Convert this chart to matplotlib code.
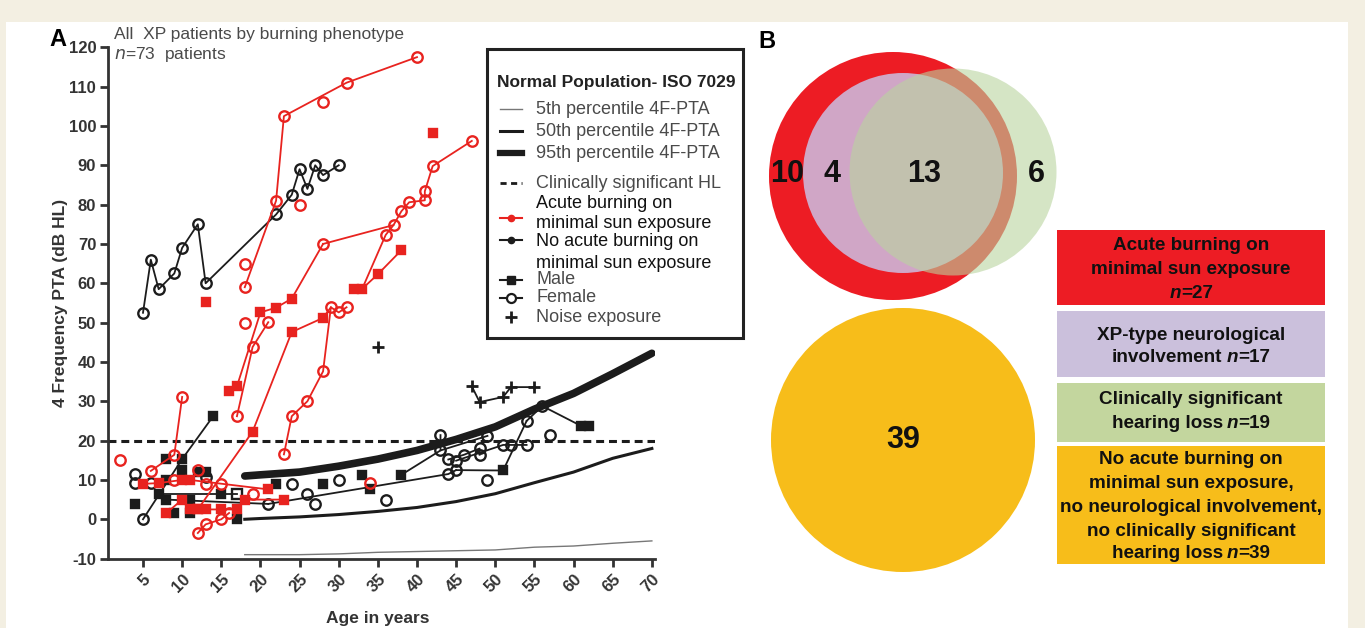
import matplotlib
matplotlib.use("Agg")
import matplotlib.pyplot as plt
from matplotlib.patches import Rectangle, Circle

plt.rcParams['axes.unicode_minus'] = False

W, H = 1365, 628
RED = '#e8231f'
BLK = '#1c1c1c'
GREY_TXT = '#4a4a4a'
ARIAL = ['Liberation Sans', 'DejaVu Sans']

# --- normal population (ISO 7029) 4F-PTA percentiles
iso_age = [18, 20, 25, 30, 35, 40, 45, 50, 55, 60, 65, 70]
iso_p5 = [-9, -9, -9, -8.8, -8.4, -8.2, -8, -7.8, -7.1, -6.8, -6.1, -5.5]
iso_p50 = [0, 0.2, 0.6, 1.2, 2.0, 3.0, 4.5, 6.5, 9.3, 12.0, 15.5, 18.0]
iso_p95 = [11, 11.3, 12, 13.5, 15.3, 17.5, 20.3, 23.5, 28, 32, 37, 42.2]
hl_threshold = 20

# --- acute burning patients, (ages, 4F-PTA) per patient
acute_female = [
    ([18, 22, 23, 31, 40], [59, 81, 102.5, 111, 117.5]),
    ([28], [106]), ([18], [65]), ([25], [80]), ([18], [50]),
    ([17, 19, 21], [26.2, 43.8, 50.1]),
    ([28, 37, 38, 39, 41, 41, 42, 47], [70, 74.8, 78.3, 80.6, 81.1, 83.4, 89.8, 96.2]),
    ([23, 24, 26, 28, 29, 30, 31], [16.5, 26.2, 30, 37.6, 53.9, 52.6, 53.9]),
    ([36], [72.3]),
    ([6, 9, 10], [12.3, 16.4, 31.1]),
    ([12, 13, 15, 16], [-3.5, -1.3, 0, 1.6]),
    ([2], [15]), ([34], [9.2]), ([13], [9]), ([15], [9]), ([12], [12.5]),
    ([9], [10]), ([19], [6.4]),
]
acute_male = [
    ([16, 17, 20, 22, 24], [32.6, 33.8, 52.6, 53.8, 56.1]),
    ([12, 19, 24, 28], [2.5, 22.3, 47.6, 51.2]),
    ([32, 33, 35, 38], [58.6, 58.6, 62.3, 68.4]),
    ([13], [55.2]), ([42], [98.2]),
    ([5, 7, 10, 11, 21], [9, 9.2, 10, 10, 7.6]),
    ([8, 10, 11, 12, 13, 15, 17, 18, 23], [1.6, 5, 2.5, 2.5, 2.5, 2.5, 2.5, 5, 5]),
]
acute_links = [
    ([24, 28], [56.1, 70]),
    ([28, 29], [51.2, 53.9]),
    ([33, 36, 37], [58.6, 72.3, 74.8]),
]

# --- no acute burning patients
none_female = [
    ([5, 6, 7, 9, 10, 12, 13, 22, 24, 25, 26, 27, 28, 30],
     [52.5, 66, 58.5, 62.5, 69, 75, 60, 77.5, 82.5, 89, 84, 90, 87.5, 90]),
    ([21, 44, 45], [3.9, 11.5, 12.5]),
    ([54, 56], [25, 28.8]),
    ([43, 43, 49], [21.4, 17.5, 21.2]),
    ([44, 46, 48, 48], [15.2, 16.4, 18, 16.4]),
    ([45, 51, 52, 54], [14.9, 18.9, 18.9, 18.9]),
    ([5], [0]), ([4], [11.5]), ([4], [9.2]), ([6], [9.2]), ([13], [10.8]),
    ([24], [9]), ([26], [6.4]), ([27], [3.9]), ([30], [10]), ([36], [5]),
    ([57], [21.4]), ([49], [10]),
]
none_male = [
    ([10, 14], [15.3, 26.3]),
    ([51], [12.4]), ([61, 62], [23.7, 23.7]),
    ([4], [3.9]), ([7], [6.4]), ([8], [15.3]), ([8], [10]), ([8], [5]),
    ([9], [1.6]), ([10], [12.5]), ([11], [5]), ([11], [1.6]), ([12], [12]),
    ([13], [12]), ([15], [6.4]), ([17], [0]), ([22], [9]), ([28], [9]),
    ([33], [11.3]), ([34], [7.6]), ([38], [11.3]),
]
none_links = [
    ([5, 10], [0, 15.3]),
    ([8, 21], [5, 3.9]),
    ([7, 17], [6.4, 6.4]),
    ([45, 51, 54], [12.5, 12.4, 25]),
    ([56, 61], [28.8, 23.7]),
    ([38, 43], [11.3, 17.5]),
]
none_open_square = ([17], [6.4])
noise = [([47, 48, 51, 52, 55], [33.8, 29.8, 31.1, 33.6, 33.6]), ([35], [43.8])]

# --- panel B
venn_counts = {'acute_only': 10, 'acute_neuro': 4, 'all_three': 13, 'hl_only': 6}
none_count = 39
box_labels = [
    [[('Acute burning on', 'normal')], [('minimal sun exposure', 'normal')],
     [('n', 'italic'), ('=27', 'normal')]],
    [[('XP-type neurological', 'normal')], [('involvement ', 'normal'), ('n', 'italic'), ('=17', 'normal')]],
    [[('Clinically significant', 'normal')], [('hearing loss ', 'normal'), ('n', 'italic'), ('=19', 'normal')]],
    [[('No acute burning on', 'normal')], [('minimal sun exposure,', 'normal')],
     [('no neurological involvement,', 'normal')], [('no clinically significant', 'normal')],
     [('hearing loss ', 'normal'), ('n', 'italic'), ('=39', 'normal')]],
]
box_colors = ['#ed1c24', '#cbc0dc', '#c3d69e', '#f7bd1a']

fig = plt.figure(figsize=(W / 100, H / 100), dpi=100, facecolor='#f3efe2')
fig.add_artist(Rectangle((6 / W, 0), (1348 - 6) / W, (H - 22) / H, transform=fig.transFigure,
                         facecolor='white', edgecolor='none', zorder=-5))

# ---------------- panel A
ax = fig.add_axes([108 / W, (H - 558.6) / H, (655 - 108) / W, (558.6 - 47.3) / H], facecolor='none')
ax.set_xlim(0.53, 70.4)
ax.set_ylim(-10, 120)

ax.plot(iso_age, iso_p5, color='#777777', lw=1.0, zorder=2)
ax.plot(iso_age, iso_p50, color=BLK, lw=2.2, zorder=2)
ax.plot(iso_age, iso_p95, color=BLK, lw=5.5, solid_capstyle='round', zorder=2)
ax.axhline(hl_threshold, color=BLK, lw=2.2, ls=(0, (2.6, 1.6)), zorder=2)


def draw_tracks(tracks, color, marker, ms, filled):
    for ages, vals in tracks:
        ax.plot(ages, vals, color=color, lw=1.3, marker=marker, ms=ms,
                mfc=color if filled else 'none', mec=color, mew=1.7, zorder=3)


for ages, vals in acute_links:
    ax.plot(ages, vals, color=RED, lw=1.3, zorder=3)
for ages, vals in none_links:
    ax.plot(ages, vals, color=BLK, lw=1.3, zorder=3)

draw_tracks(none_female, BLK, 'o', 7.5, False)
draw_tracks(none_male, BLK, 's', 6.2, True)
ax.plot(*none_open_square, ls='none', marker='s', ms=7, mfc='none', mec=BLK, mew=1.7, zorder=3)
draw_tracks(acute_female, RED, 'o', 7.5, False)
draw_tracks(acute_male, RED, 's', 6.2, True)
for ages, vals in noise:
    ax.plot(ages, vals, color=BLK, lw=1.3, marker='+', ms=9, mew=2, zorder=3)

for side in ['top', 'right']:
    ax.spines[side].set_visible(False)
for side in ['left', 'bottom']:
    ax.spines[side].set_linewidth(2)
    ax.spines[side].set_color('#333333')
ax.set_yticks(range(-10, 121, 10))
ax.set_xticks(range(5, 71, 5))
ax.tick_params(direction='out', length=6, width=2, color='#333333', labelcolor='#333333', labelsize=12)
ax.tick_params(axis='y', pad=2.5)
for lab in ax.get_yticklabels():
    lab.set_fontweight('bold')
    lab.set_family(ARIAL)
for lab in ax.get_xticklabels():
    lab.set_fontweight('bold')
    lab.set_family(ARIAL)
    lab.set_rotation(45)
    lab.set_ha('right')
    lab.set_va('top')
    lab.set_rotation_mode('anchor')

# ---------------- overlay in pixel coordinates
ov = fig.add_axes([0, 0, 1, 1], facecolor='none', zorder=5)
ov.set_xlim(0, W)
ov.set_ylim(H, 0)
ov.axis('off')

ov.text(49, 40, 'A', fontsize=17, fontweight='bold', family=ARIAL, va='center', ha='left')
ov.text(758, 42, 'B', fontsize=17, fontweight='bold', family=ARIAL, va='center', ha='left')
ov.text(114, 35, 'All  XP patients by burning phenotype', fontsize=12.5, color=GREY_TXT,
        family=ARIAL, va='center')
ov.text(114, 55, r'$\it{n}$=73  patients', fontsize=12.5, color=GREY_TXT, family=ARIAL, va='center')
ov.text(60, 303, '4 Frequency PTA (dB HL)', rotation=90, fontsize=12.5, fontweight='bold',
        color='#333333', family=ARIAL, va='center', ha='center')
ov.text(378, 618, 'Age in years', fontsize=12.5, fontweight='bold', color='#333333',
        family=ARIAL, va='center', ha='center')

# legend box
LFS = 13
ov.add_patch(Rectangle((487, 49), 256, 289, facecolor='white', edgecolor='#222222', lw=2.2))
lx0, lx1, tx = 500, 522, 536
ov.text(497, 82, 'Normal Population- ISO 7029', fontsize=12.5, fontweight='bold', color='#222222',
        family=ARIAL, va='center')
legend_rows = [
    (109, '5th percentile 4F-PTA', dict(color='#777777', lw=1.0), GREY_TXT),
    (131, '50th percentile 4F-PTA', dict(color=BLK, lw=2.2), GREY_TXT),
    (153, '95th percentile 4F-PTA', dict(color=BLK, lw=4.5), GREY_TXT),
    (183, 'Clinically significant HL', dict(color=BLK, lw=2.0, ls=(0, (2.2, 1.6))), GREY_TXT),
]
for y, label, style, tc in legend_rows:
    ov.plot([lx0, lx1], [y, y], **style)
    ov.text(tx, y, label, fontsize=LFS, color=tc, family=ARIAL, va='center')

ov.plot([lx0, lx1], [218, 218], color=RED, lw=1.5)
ov.plot([511], [218], color=RED, marker='o', ms=4.5)
ov.text(tx, 203, 'Acute burning on', fontsize=LFS, color='#111111', family=ARIAL, va='center')
ov.text(tx, 224, 'minimal sun exposure', fontsize=LFS, color='#111111', family=ARIAL, va='center')
ov.plot([lx0, lx1], [240, 240], color=BLK, lw=1.5)
ov.plot([511], [240], color=BLK, marker='o', ms=4.5)
ov.text(tx, 242, 'No acute burning on', fontsize=LFS, color='#111111', family=ARIAL, va='center')
ov.text(tx, 263, 'minimal sun exposure', fontsize=LFS, color='#111111', family=ARIAL, va='center')
ov.plot([lx0, lx1], [280, 280], color=BLK, lw=1.5)
ov.plot([511], [280], color=BLK, marker='s', ms=5.5)
ov.text(tx, 280, 'Male', fontsize=LFS, color=GREY_TXT, family=ARIAL, va='center')
ov.plot([lx0, lx1], [298, 298], color=BLK, lw=1.5)
ov.plot([511], [298], color=BLK, marker='o', ms=6.5, mfc='white', mew=1.6)
ov.text(tx, 298, 'Female', fontsize=LFS, color=GREY_TXT, family=ARIAL, va='center')
ov.plot([511], [317], color=BLK, marker='+', ms=8, mew=2)
ov.text(tx, 317, 'Noise exposure', fontsize=LFS, color=GREY_TXT, family=ARIAL, va='center')

# ---------------- panel B: venn circles
ov.add_patch(Circle((893, 176), 124, facecolor='#ed1c24', edgecolor='none'))
ov.add_patch(Circle((903, 173), 100, facecolor='#d0a6c6', edgecolor='none'))
ov.add_patch(Circle((953, 172), 103.5, facecolor='#b9d49f', alpha=0.6, edgecolor='none'))
ov.add_patch(Circle((903, 440), 132, facecolor='#f7bd1a', edgecolor='none'))

venn_pos = {'acute_only': 787, 'acute_neuro': 832, 'all_three': 924, 'hl_only': 1036}
for key, n in venn_counts.items():
    ov.text(venn_pos[key], 174, str(n), fontsize=22, fontweight='bold', family=ARIAL,
            color='#111111', ha='center', va='center')
ov.text(903, 440, str(none_count), fontsize=22, fontweight='bold', family=ARIAL,
        color='#111111', ha='center', va='center')

# panel B: key boxes
box_rows = [(230, 305), (311, 377), (383, 442), (446, 564)]
line_ys = [[246, 269, 293], [335, 358], [399, 423], [459, 483, 507, 531, 554]]
renderer = fig.canvas.get_renderer()


def rich_line(xc, y, parts, fs=14):
    pieces = []
    total = 0
    for s, style in parts:
        gap = 4 if s.endswith(' ') else 0
        t = ov.text(0, y, s.rstrip(), fontsize=fs, fontweight='bold', fontstyle=style,
                    family=ARIAL, color='#111111', va='center', ha='left')
        w = t.get_window_extent(renderer=renderer).width + gap
        pieces.append((t, w))
        total += w
    x = xc - total / 2
    for t, w in pieces:
        t.set_x(x)
        x += w


for (y0, y1), col, lines, ys in zip(box_rows, box_colors, box_labels, line_ys):
    ov.add_patch(Rectangle((1057, y0), 268, y1 - y0, facecolor=col, edgecolor='none'))
    for parts, y in zip(lines, ys):
        rich_line(1191, y, parts, fs=13.6)

fig.savefig('out.png', dpi=100, facecolor=fig.get_facecolor())
